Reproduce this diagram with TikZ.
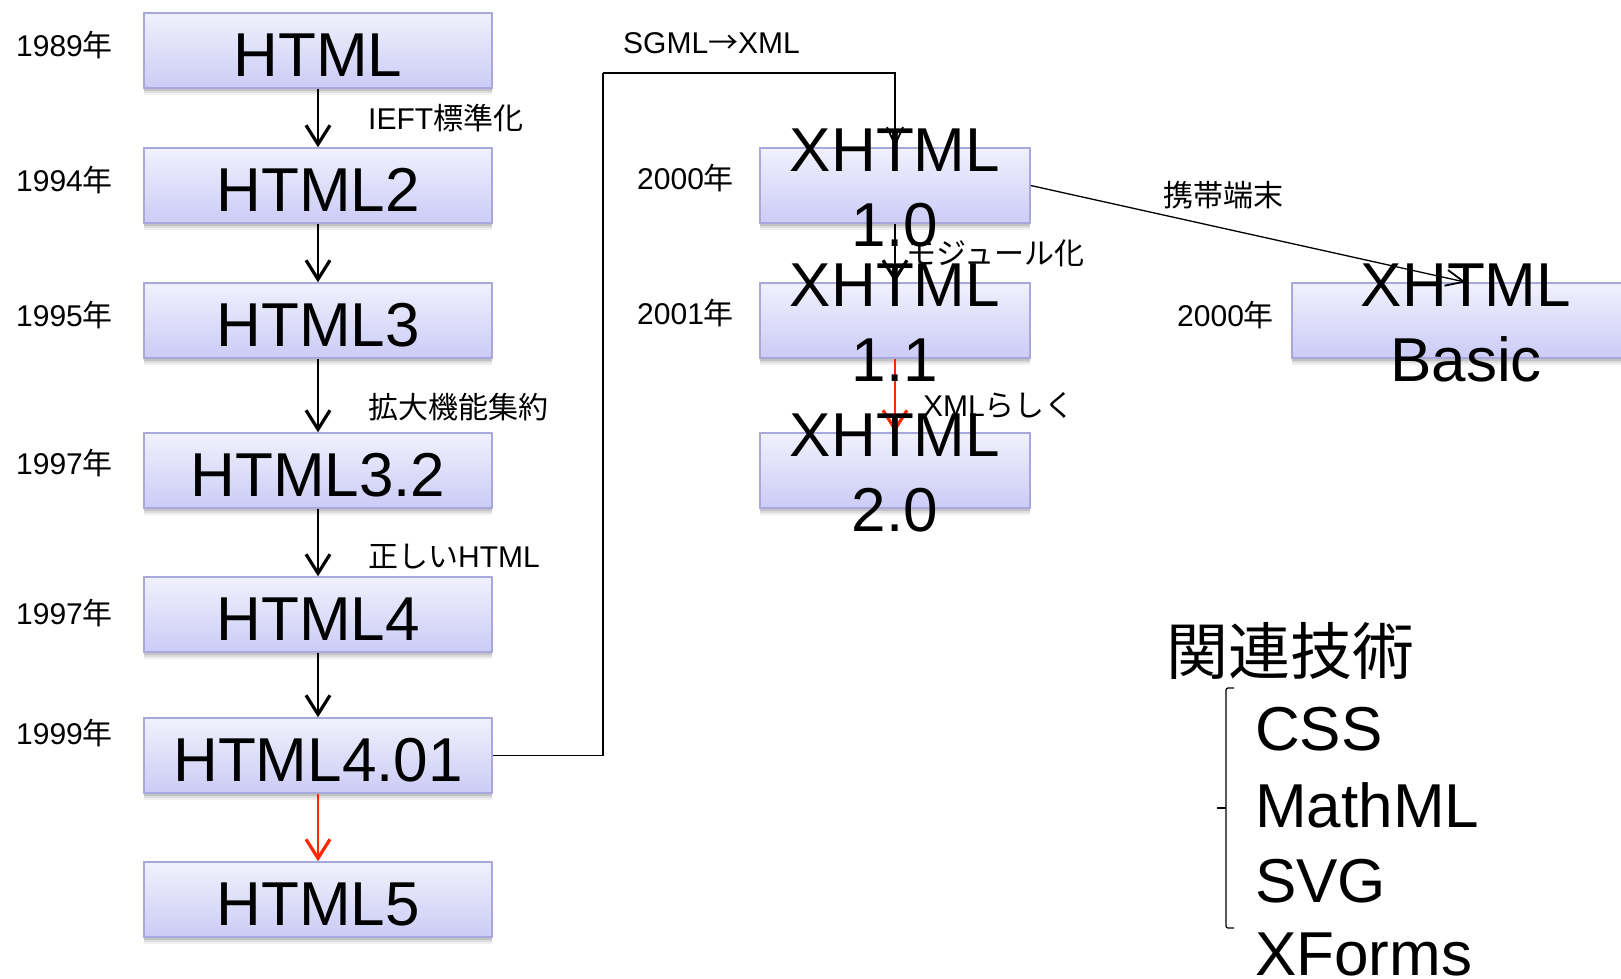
\documentclass[tikz,border=0pt]{standalone}
\usepackage{fontspec}
\setmainfont{Liberation Sans}
\newfontfamily\cjk{Noto Sans CJK JP}
\usetikzlibrary{arrows.meta,shadows}
\definecolor{boxtop}{RGB}{241,241,253}
\definecolor{boxbot}{RGB}{203,203,246}
\definecolor{boxline}{RGB}{168,168,220}
\definecolor{arrred}{RGB}{255,38,0}
\begin{document}
\begin{tikzpicture}[x=1pt,y=-1pt,
  basebox/.style={draw=boxline, line width=1.5pt, top color=boxtop, bottom color=boxbot,
    minimum height=75pt, inner sep=0pt,
    drop shadow={shadow xshift=0pt, shadow yshift=-7pt, opacity=0.06, fill=black},
    drop shadow={shadow xshift=0pt, shadow yshift=-5pt, opacity=0.08, fill=black},
    drop shadow={shadow xshift=0pt, shadow yshift=-3pt, opacity=0.12, fill=black}},
  hbox/.style={basebox, minimum width=348pt, font=\fontsize{62}{75}\selectfont,
    text height=52pt, text depth=0pt},
  xbox/.style={basebox, minimum width=270pt},
  xtext/.style={font=\fontsize{62}{75}\selectfont, align=center, inner sep=0pt, yshift=-2pt},
  lbl/.style={font=\fontsize{30}{36}\selectfont, inner sep=0pt, anchor=west},
  big/.style={font=\fontsize{62}{75}\selectfont, inner sep=0pt, anchor=base west},
  arr/.style={line width=1.6pt, -{Straight Barb[length=19pt,width=24pt,line width=3.2pt]}},
  arrthin/.style={line width=1.3pt, -{Straight Barb[length=18pt,width=16pt,line width=1.8pt]}},
  redarr/.style={arr, draw=arrred}
]
\useasboundingbox (0,0) rectangle (1621,978);
\clip (0,0) rectangle (1621,978);

% left column
\node[hbox] (h1)   at (318,50.5)  {HTML};
\node[hbox] (h2)   at (318,185.5) {HTML2};
\node[hbox] (h3)   at (318,320.5) {HTML3};
\node[hbox] (h32)  at (318,470.5) {HTML3.2};
\node[hbox] (h4)   at (318,614.5) {HTML4};
\node[hbox] (h401) at (318,755.5) {HTML4.01};
\node[hbox] (h5)   at (318,899.5) {HTML5};

% XHTML column
\node[xbox] (x10) at (895,185.5) {};
\node[xbox] (x11) at (895,320.5) {};
\node[xbox] (x20) at (895,470.5) {};
\node[basebox, minimum width=348pt] (xb) at (1466,320.5) {};

% years
\node[lbl] (y1) at (16,45)  {1989{\cjk 年}};
\node[lbl] (y2) at (16,180) {1994{\cjk 年}};
\node[lbl] (y3) at (16,315) {1995{\cjk 年}};
\node[lbl] (y4) at (16,463) {1997{\cjk 年}};
\node[lbl] (y5) at (16,613) {1997{\cjk 年}};
\node[lbl] (y6) at (16,733) {1999{\cjk 年}};
\node[lbl] (y7) at (637,178) {2000{\cjk 年}};
\node[lbl] (y8) at (637,313) {2001{\cjk 年}};
\node[lbl] (y9) at (1177,315) {2000{\cjk 年}};

% connectors
\draw[arr] (h1.south) -- (h2.north);
\draw[arr] (h2.south) -- (h3.north);
\draw[arr] (h3.south) -- (h32.north);
\draw[arr] (h32.south) -- (h4.north);
\draw[arr] (h4.south) -- (h401.north);
\draw[redarr] (h401.south) -- (h5.north);

\coordinate (c1) at (603,73);
\draw[line width=1.3pt] (h401.east) -| (c1);
\draw[arrthin] (c1) -| (x10.north);
\draw[arr] (x10.south) -- (x11.north);
\draw[redarr] (x11.south) -- (x20.north);
\draw[arrthin] (x10.east) -- (xb.north);

% edge labels
\node[lbl] (l1) at (368,118) {IEFT{\cjk 標準化}};
\node[lbl] (l2) at (368,407) {\cjk 拡大機能集約};
\node[lbl] (l3) at (368,557) {{\cjk 正しい}HTML};
\node[lbl] (l4) at (623,43)  {SGML{\cjk →}XML};
\node[lbl] (l5) at (906,253) {\cjk モジュール化};
\node[lbl] (l6) at (923,405) {XML{\cjk らしく}};
\node[lbl] (l7) at (1163,195) {\cjk 携帯端末};

% XHTML texts
\node[xtext] (t10) at (x10) {XHTML\\1.0};
\node[xtext] (t11) at (x11) {XHTML\\1.1};
\node[xtext] (t20) at (x20) {XHTML\\2.0};
\node[xtext] (tb)  at (xb)  {XHTML\\Basic};

% related technologies
\node[font=\fontsize{62}{75}\selectfont\cjk, inner sep=0pt, anchor=west] (rel) at (1166,651) {関連技術};
\draw[line width=1.2pt, rounded corners=2pt] (1234,688) -- (1226,688) -- (1226,928) -- (1234,928);
\draw[line width=1.2pt] (1226,808) -- (1217,808);
\node[big] (css) at (1255,750) {CSS};
\node[big] (mml) at (1255,827) {MathML};
\node[big] (svg) at (1255,902) {SVG};
\node[big] (xf)  at (1255,975) {XForms};
\end{tikzpicture}
\end{document}
